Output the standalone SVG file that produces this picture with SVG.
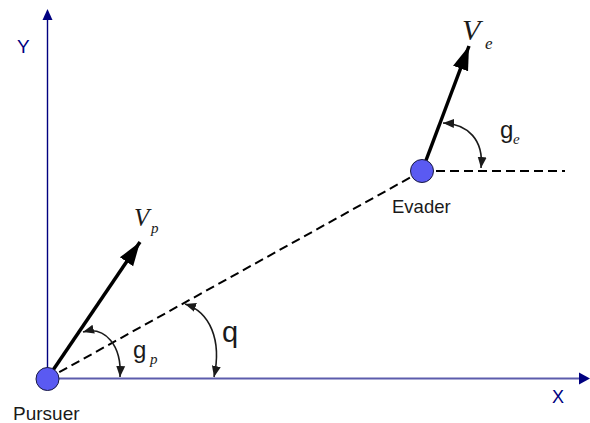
<svg xmlns="http://www.w3.org/2000/svg" width="590" height="423" viewBox="0 0 590 423">
<style>
.lbl{font-family:"Liberation Sans",Arial,sans-serif;fill:#1a1a1a}
.ax{font-family:"Liberation Sans",Arial,sans-serif;fill:#000080}
.it{font-family:"Liberation Serif","Times New Roman",serif;font-style:italic;fill:#1a1a1a}
.dash{stroke:#000;stroke-width:2;stroke-dasharray:9 5;fill:none}
.vel{stroke:#000;stroke-width:3.5;fill:none}
.arc{stroke:#1a1a1a;stroke-width:1.6;fill:none}
.node{fill:#5a5af2;stroke:#1a1a40;stroke-width:1}
</style>
<defs>
<marker id="big" markerUnits="userSpaceOnUse" markerWidth="26" markerHeight="20" viewBox="0 0 26 20" refX="24" refY="10" orient="auto">
<path d="M0,2 L24,10 L0,18 Z" fill="#000"/>
</marker>
<marker id="small" markerUnits="userSpaceOnUse" markerWidth="12" markerHeight="10" viewBox="0 0 12 10" refX="11" refY="5" orient="auto-start-reverse">
<path d="M0,0.5 L11,5 L0,9.5 Z" fill="#1a1a1a"/>
</marker>
</defs>
<g id="axes">
<line x1="47.5" y1="379" x2="47.5" y2="19" stroke="#000080" stroke-width="1.4"/>
<path d="M47.5,9 L52.5,20 L42.5,20 Z" fill="#000080"/>
<line x1="47" y1="378.5" x2="580" y2="378.5" stroke="#5c5cac" stroke-width="2"/>
<path d="M590,378.5 L579,372.5 L579,384.5 Z" fill="#000080"/>
<text class="ax" x="17" y="53" font-size="19">Y</text>
<text class="ax" x="552" y="403" font-size="18">X</text>
</g>
<g id="connectors">
<line class="dash" x1="47" y1="379" x2="422" y2="171"/>
<line class="dash" x1="422" y1="171" x2="565" y2="171"/>
<line class="vel" x1="47" y1="379" x2="140" y2="242" marker-end="url(#big)"/>
<line class="vel" x1="422" y1="171" x2="469" y2="46" marker-end="url(#big)"/>
<path class="arc" d="M83,332 C105,326 122,345 120,377" marker-start="url(#small)" marker-end="url(#small)"/>
<path class="arc" d="M185,304 C210,312 222,340 214,377" marker-start="url(#small)" marker-end="url(#small)"/>
<path class="arc" d="M443,123 C468,124 484,140 481,168" marker-start="url(#small)" marker-end="url(#small)"/>
</g>
<g id="pursuer">
<circle class="node" cx="47.5" cy="379" r="11.5"/>
<text class="lbl" x="13" y="420" font-size="19">Pursuer</text>
</g>
<g id="evader">
<circle class="node" cx="422" cy="171" r="11.5"/>
<text class="lbl" x="392" y="213" font-size="18.5">Evader</text>
</g>
<g id="labels">
<text class="it" x="134" y="226" font-size="25">V</text>
<text class="it" x="151" y="233" font-size="15">p</text>
<text class="it" x="462" y="40" font-size="30">V</text>
<text class="it" x="485" y="49" font-size="17">e</text>
<text class="lbl" x="133" y="358" font-size="24">g</text>
<text class="it" x="150" y="364" font-size="15">p</text>
<text class="lbl" x="500" y="138" font-size="24">g</text>
<text class="it" x="513" y="144" font-size="15">e</text>
<text class="lbl" x="222" y="342" font-size="29">q</text>
</g>
</svg>
